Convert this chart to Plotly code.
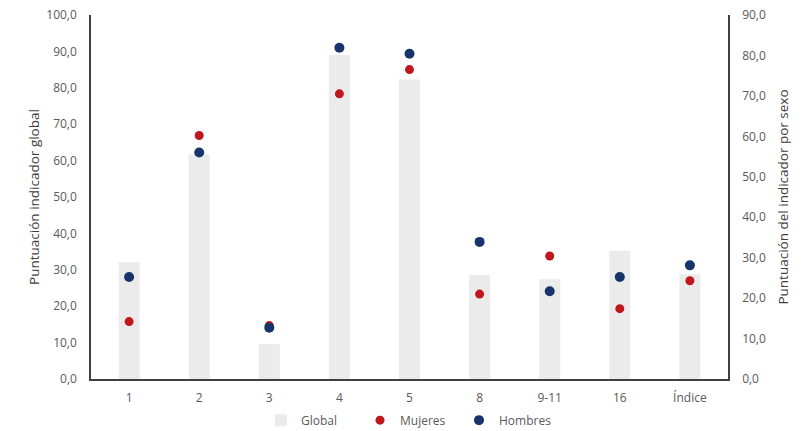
import plotly.graph_objects as go

categories = ["1", "2", "3", "4", "5", "8", "9-11", "16", "Índice"]
global_vals = [32.1, 61.7, 9.6, 89.0, 82.3, 28.6, 27.4, 35.2, 28.8]
mujeres = [14.2, 60.2, 13.2, 70.5, 76.5, 21.0, 30.4, 17.4, 24.3]
hombres = [25.2, 56.0, 12.7, 81.9, 80.4, 33.9, 21.7, 25.2, 28.1]

FONT = "Open Sans"
TICK_COLOR = "#595959"
AXIS_COLOR = "#404040"

fig = go.Figure()
fig.add_trace(go.Bar(
    x=categories, y=global_vals, name="Global",
    marker=dict(color="#EBEBEB", line=dict(width=0)),
    width=0.3, yaxis="y",
))
fig.add_trace(go.Scatter(
    x=categories, y=mujeres, name="Mujeres", mode="markers",
    marker=dict(color="#C0161E", size=9), yaxis="y2",
))
fig.add_trace(go.Scatter(
    x=categories, y=hombres, name="Hombres", mode="markers",
    marker=dict(color="#17356B", size=10), yaxis="y2",
))

fig.update_layout(
    width=807, height=431,
    margin=dict(l=91, r=79, t=15, b=52, autoexpand=False),
    paper_bgcolor="white", plot_bgcolor="white",
    separators=",.",
    font=dict(family=FONT, size=12, color=TICK_COLOR),
    showlegend=True,
    legend=dict(orientation="h", x=0.5, xanchor="center", y=-0.113, yanchor="middle",
                font=dict(size=12, color=TICK_COLOR), itemwidth=30,
                entrywidth=54, entrywidthmode="pixels",
                traceorder="normal", bgcolor="rgba(0,0,0,0)"),
    xaxis=dict(
        type="category", showgrid=False, showline=True, linecolor=AXIS_COLOR, linewidth=1.5,
        ticks="outside", ticklen=7, tickcolor="rgba(0,0,0,0)", automargin=False,
        tickfont=dict(size=12, color=TICK_COLOR), zeroline=False,
    ),
    yaxis=dict(
        range=[0, 100], dtick=10, tickformat=".1f", showgrid=False, automargin=False,
        showline=True, linecolor=AXIS_COLOR, linewidth=1.5,
        ticks="outside", ticklen=10, tickcolor="rgba(0,0,0,0)",
        tickfont=dict(size=12, color=TICK_COLOR), zeroline=False,
        title=dict(text="Puntuación indicador global", font=dict(size=13.5, color="#404040"), standoff=4),
    ),
    yaxis2=dict(
        range=[0, 90], dtick=10, tickformat=".1f", showgrid=False, automargin=False,
        overlaying="y", side="right",
        showline=True, linecolor=AXIS_COLOR, linewidth=1.5,
        ticks="outside", ticklen=10, tickcolor="rgba(0,0,0,0)",
        tickfont=dict(size=12, color=TICK_COLOR), zeroline=False,
        title=dict(text="Puntuación del indicador por sexo", font=dict(size=13.5, color="#404040"), standoff=14),
    ),
)

fig.write_html("out.html", config={"displayModeBar": False},
               post_script="document.body.style.margin='0';")
